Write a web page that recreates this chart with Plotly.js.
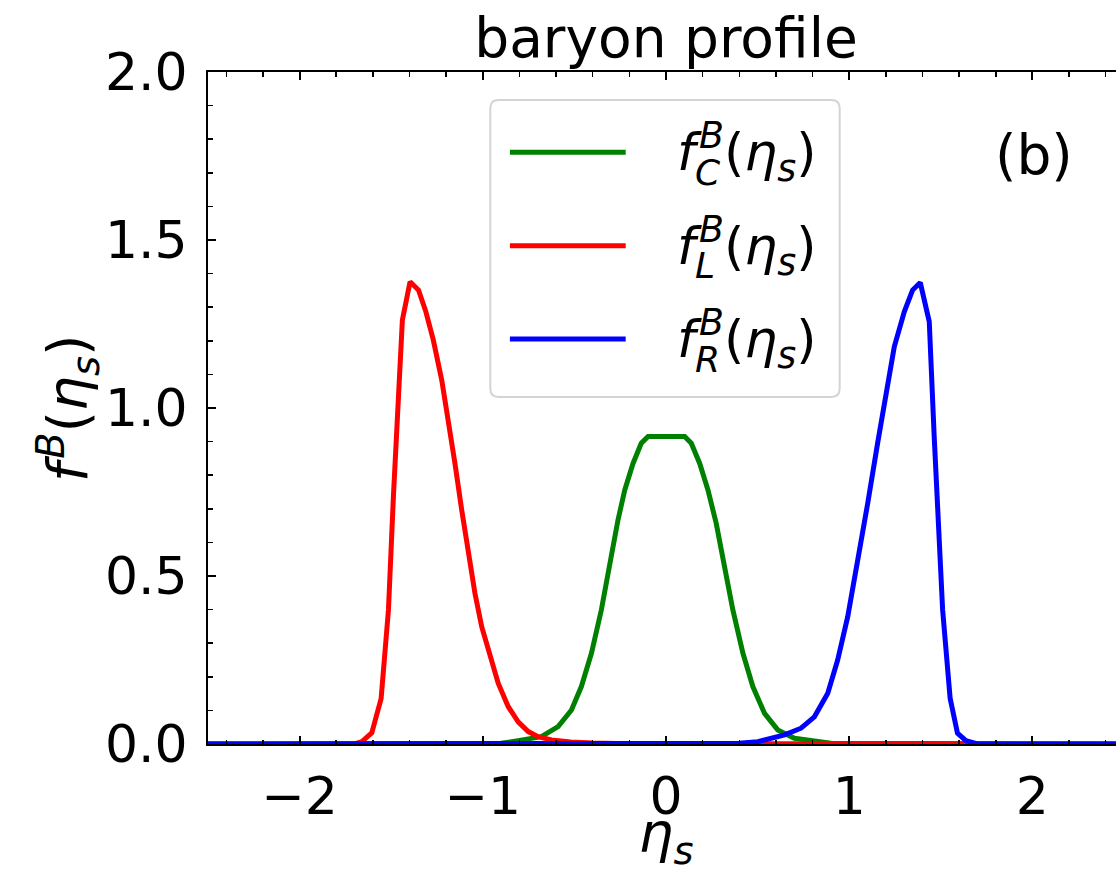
<!DOCTYPE html>
<html>
<head>
<meta charset="utf-8">
<script src="https://cdn.plot.ly/plotly-3.0.1.min.js"></script>
<style>html,body{margin:0;padding:0;overflow:hidden;background:#fff;}</style>
</head>
<body>
<div id="chart"></div>
<script>
// ---- data ----
const etaC = [-2.5, -0.90, -0.807, -0.68, -0.589, -0.516, -0.462, -0.407, -0.353, -0.307, -0.262, -0.225, -0.180, -0.135, -0.098, 0.102, 0.138, 0.184, 0.229, 0.274, 0.320, 0.365, 0.420, 0.474, 0.538, 0.610, 0.701, 0.810, 0.90, 2.5];
const fC   = [0, 0.002, 0.010, 0.022, 0.052, 0.101, 0.171, 0.270, 0.399, 0.538, 0.667, 0.756, 0.835, 0.895, 0.915, 0.915, 0.895, 0.835, 0.756, 0.657, 0.528, 0.399, 0.270, 0.171, 0.091, 0.042, 0.017, 0.007, 0.002, 0];

const etaL = [-2.5, -1.70, -1.66, -1.606, -1.555, -1.515, -1.488, -1.46, -1.439, -1.397, -1.351, -1.312, -1.270, -1.224, -1.188, -1.152, -1.115, -1.079, -1.043, -1.006, -0.961, -0.916, -0.861, -0.807, -0.752, -0.698, -0.625, -0.52, -0.40, -0.20, 2.5];
const fL   = [0, 0, 0.007, 0.033, 0.135, 0.399, 0.736, 1.034, 1.262, 1.376, 1.351, 1.289, 1.202, 1.083, 0.964, 0.835, 0.696, 0.568, 0.449, 0.349, 0.260, 0.181, 0.111, 0.066, 0.037, 0.022, 0.012, 0.006, 0.003, 0.001, 0];

const etaR = [-2.5, 0.40, 0.501, 0.647, 0.737, 0.810, 0.883, 0.937, 0.992, 1.046, 1.101, 1.155, 1.201, 1.246, 1.301, 1.346, 1.388, 1.437, 1.464, 1.492, 1.510, 1.551, 1.591, 1.637, 1.70, 2.5];
const fR   = [0, 0.002, 0.007, 0.027, 0.047, 0.081, 0.151, 0.250, 0.379, 0.538, 0.716, 0.895, 1.044, 1.182, 1.287, 1.351, 1.373, 1.257, 0.915, 0.617, 0.399, 0.136, 0.032, 0.010, 0, 0];

const seriesNames = ['C', 'L', 'R'];
const seriesColors = ['green', 'red', 'blue'];
const titleText = 'baryon profile';
const xTitle = '<i>η</i><sub><i>s</i></sub>';
const yTitle = '<i>f</i><sup>\u200A<i>B</i></sup>(<i>η</i><sub><i>s</i></sub>)';
const panelLabel = '(b)';

// ---- drawing ----
const FONT = 'DejaVu Sans';
const FS = 52;     // tick labels, legend
const FT = 55;     // title, axis titles, panel label
const lw = 5;

const traces = [
  {x: etaC, y: fC, mode: 'lines', line: {color: seriesColors[0], width: lw}, name: 'C'},
  {x: etaL, y: fL, mode: 'lines', line: {color: seriesColors[1], width: lw}, name: 'L'},
  {x: etaR, y: fR, mode: 'lines', line: {color: seriesColors[2], width: lw}, name: 'R'}
];

// legend (drawn with shapes + annotations to mimic matplotlib)
const lgX0 = -0.959, lgX1 = 0.948, lgY0 = 1.033, lgY1 = 1.917;
const rx = 0.045, ry = 0.025;
const boxPath = `M ${lgX0+rx},${lgY0} L ${lgX1-rx},${lgY0} Q ${lgX1},${lgY0} ${lgX1},${lgY0+ry} L ${lgX1},${lgY1-ry} Q ${lgX1},${lgY1} ${lgX1-rx},${lgY1} L ${lgX0+rx},${lgY1} Q ${lgX0},${lgY1} ${lgX0},${lgY1-ry} L ${lgX0},${lgY0+ry} Q ${lgX0},${lgY0} ${lgX0+rx},${lgY0} Z`;
const shapes = [{type: 'path', path: boxPath, xref: 'x', yref: 'y', line: {color: '#d4d4d4', width: 2}, fillcolor: 'rgba(255,255,255,0.8)', layer: 'above'}];
const annotations = [];
const rowY = [1.761, 1.483, 1.205];
seriesNames.forEach((nm, i) => {
  shapes.push({type: 'line', xref: 'x', yref: 'y', x0: -0.852, x1: -0.220, y0: rowY[i], y1: rowY[i], line: {color: seriesColors[i], width: lw}, layer: 'above'});
  annotations.push({xref: 'x', yref: 'y', x: 0.047, y: rowY[i], xanchor: 'left', yanchor: 'middle', showarrow: false,
    text: '<i>f</i><sup>\u200A<i>B</i></sup>(<i>η</i><sub><i>s</i></sub>)', font: {family: FONT, size: FS, color: 'black'}});
  annotations.push({xref: 'x', yref: 'y', x: 0.145, y: rowY[i] - 0.06, xanchor: 'left', yanchor: 'middle', showarrow: false,
    text: '<i>' + nm + '</i>', font: {family: FONT, size: Math.round(FS * 0.7), color: 'black'}});
});
annotations.push({xref: 'x', yref: 'y', x: 2.01, y: 1.753, xanchor: 'center', yanchor: 'middle', showarrow: false,
  text: panelLabel, font: {family: FONT, size: FT, color: 'black'}});
// y-axis title placed precisely
annotations.push({xref: 'paper', yref: 'paper', x: -0.1528, y: 0.5, xanchor: 'center', yanchor: 'middle', textangle: -90, showarrow: false,
  text: yTitle, font: {family: FONT, size: FT, color: 'black'}});

const layout = {
  width: 1140, height: 873,
  margin: {l: 208, r: 16, t: 72, b: 129, pad: 0},
  paper_bgcolor: 'white', plot_bgcolor: 'white',
  showlegend: false,
  font: {family: FONT, size: FS, color: 'black'},
  title: {text: titleText, font: {family: FONT, size: FT, color: 'black'}, x: 0.5, xref: 'paper', xanchor: 'center', y: 0.957, yref: 'container', yanchor: 'middle'},
  xaxis: {
    range: [-2.5, 2.5], tickmode: 'linear', tick0: 0, dtick: 1,
    ticks: 'inside', ticklen: 8, tickwidth: 2, tickcolor: 'black',
    showline: true, linewidth: 2, linecolor: 'black', mirror: 'ticks',
    showgrid: false, zeroline: false, automargin: false,
    ticklabelstandoff: 6,
    minor: {dtick: 0.2, ticks: 'inside', ticklen: 4.5, tickwidth: 1.5, tickcolor: 'black', showgrid: false},
    title: {text: xTitle, font: {family: FONT, size: FT}, standoff: 14}
  },
  yaxis: {
    range: [0, 2], tickmode: 'linear', tick0: 0, dtick: 0.5, tickformat: '.1f',
    ticks: 'inside', ticklen: 8, tickwidth: 2, tickcolor: 'black',
    showline: true, linewidth: 2, linecolor: 'black', mirror: 'ticks',
    showgrid: false, zeroline: false, automargin: false,
    ticklabelstandoff: 8,
    minor: {dtick: 0.1, ticks: 'inside', ticklen: 4.5, tickwidth: 1.5, tickcolor: 'black', showgrid: false}
  },
  shapes: shapes,
  annotations: annotations
};

Plotly.newPlot('chart', traces, layout, {staticPlot: true, displayModeBar: false});
</script>
</body>
</html>
